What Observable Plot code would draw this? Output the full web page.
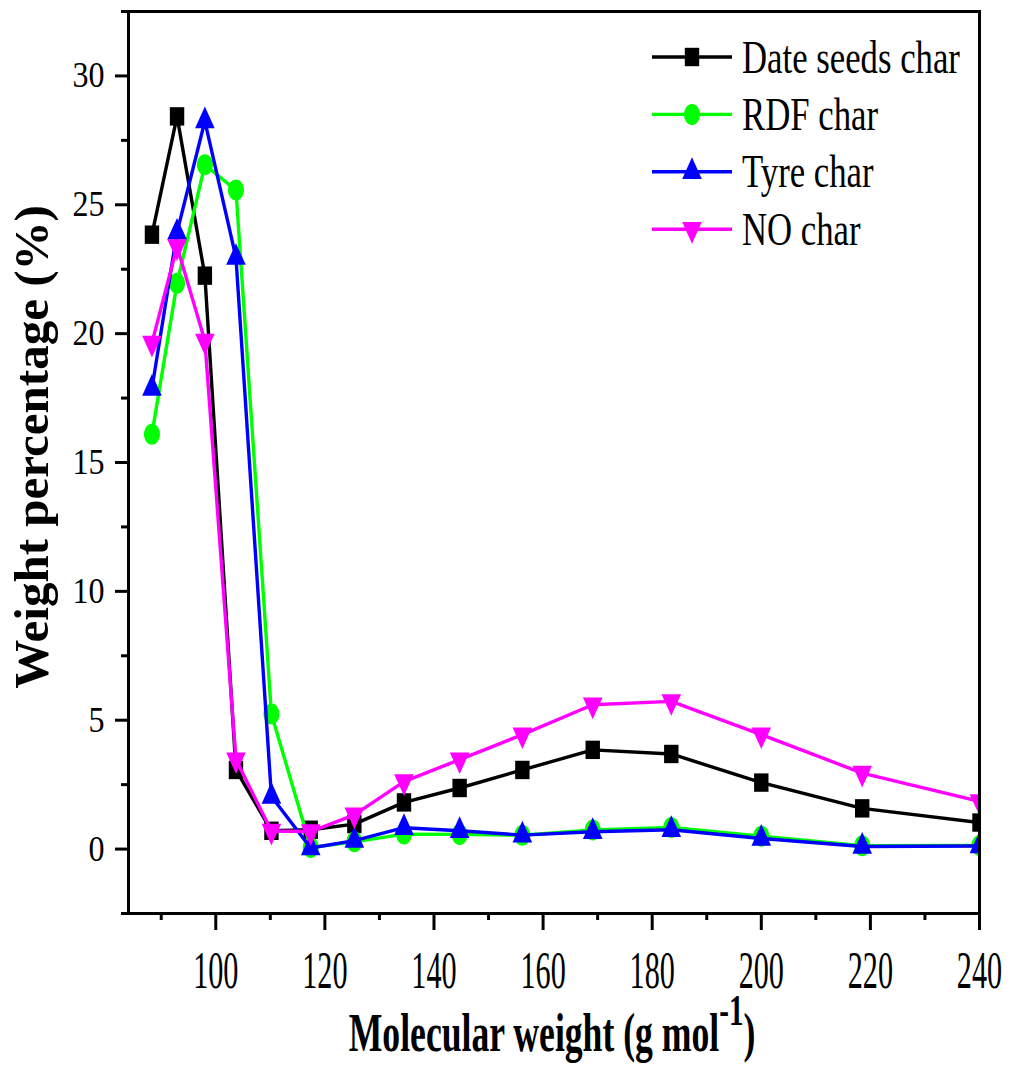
<!DOCTYPE html>
<html><head><meta charset="utf-8">
<script src="https://cdn.jsdelivr.net/npm/d3@7"></script>
<script src="https://cdn.jsdelivr.net/npm/@observablehq/plot@0.6"></script>
<style>body{margin:0;background:#fff}</style>
</head><body><div id="chart"></div>
<script>
const seriesNames = ["Date seeds char", "RDF char", "Tyre char", "NO char"];
const seriesColors = ["#000000", "#00ff00", "#0000ff", "#ff00ff"];
const molecularWeight = [88.3, 92.9, 98.0, 103.7, 110.2, 117.4, 125.4, 134.5, 144.7, 156.2, 169.1, 183.5, 200.0, 218.5, 240.0];
const dateSeedsChar = [23.84, 28.43, 22.25, 3.07, 0.71, 0.75, 0.97, 1.81, 2.37, 3.07, 3.85, 3.69, 2.58, 1.58, 1.03];
const rdfChar = [16.1, 21.96, 26.55, 25.57, 5.24, 0.06, 0.28, 0.58, 0.57, 0.54, 0.74, 0.84, 0.5, 0.13, 0.14];
const tyreChar = [17.87, 23.93, 28.25, 22.95, 2.04, 0.04, 0.33, 0.83, 0.71, 0.54, 0.67, 0.75, 0.41, 0.1, 0.12];
const noChar = [19.64, 23.38, 19.72, 3.47, 0.7, 0.68, 1.33, 2.62, 3.47, 4.44, 5.6, 5.73, 4.44, 2.95, 1.85];
const seriesValues = [dateSeedsChar, rdfChar, tyreChar, noChar];
const xMajorTicks = [100, 120, 140, 160, 180, 200, 220, 240];
const xMinorTicks = [90, 110, 130, 150, 170, 190, 210, 230];
const yMajorTicks = [0, 5, 10, 15, 20, 25, 30];
const yMinorTicks = [-2.5, 2.5, 7.5, 12.5, 17.5, 22.5, 27.5, 32.5];

// custom marker shapes
const K = 0.5523;
const squareSym = {draw(c) { const w = 7.2, h = 9.2; c.moveTo(-w, -h); c.lineTo(w, -h); c.lineTo(w, h); c.lineTo(-w, h); c.closePath(); }};
const ellipseSym = {draw(c) { const rx = 8, ry = 10.5;
  c.moveTo(rx, 0); c.bezierCurveTo(rx, ry * K, rx * K, ry, 0, ry); c.bezierCurveTo(-rx * K, ry, -rx, ry * K, -rx, 0);
  c.bezierCurveTo(-rx, -ry * K, -rx * K, -ry, 0, -ry); c.bezierCurveTo(rx * K, -ry, rx, -ry * K, rx, 0); c.closePath(); }};
const triUpSym = {draw(c) { const w = 9.8, h = 21.7; c.moveTo(0, -2 * h / 3); c.lineTo(w, h / 3); c.lineTo(-w, h / 3); c.closePath(); }};
const triDownSym = {draw(c) { const w = 9.8, h = 21.7; c.moveTo(0, 2 * h / 3); c.lineTo(w, -h / 3); c.lineTo(-w, -h / 3); c.closePath(); }};
const seriesSymbols = [squareSym, ellipseSym, triUpSym, triDownSym];

const seriesMarks = seriesNames.flatMap((name, s) => {
  const rows = molecularWeight.map((mw, i) => ({series: name, mw, value: seriesValues[s][i]}));
  return [
    Plot.line(rows, {x: "mw", y: "value", stroke: seriesColors[s], strokeWidth: 3.4, clip: true}),
    Plot.dot(rows, {x: "mw", y: "value", symbol: seriesSymbols[s], fill: seriesColors[s], stroke: "none", clip: true})
  ];
});

const chart = Plot.plot({
  width: 1009, height: 1066,
  marginLeft: 128, marginRight: 30, marginTop: 11, marginBottom: 153,
  style: {fontFamily: "'Liberation Serif', 'Times New Roman', serif", background: "white", color: "black"},
  x: {domain: [84, 240]},
  y: {domain: [-2.5, 32.5]},
  marks: [
    Plot.axisX(xMinorTicks, {tickSize: 7, strokeWidth: 3, tickFormat: () => "", label: null}),
    Plot.axisX(xMajorTicks, {tickSize: 17, strokeWidth: 3, tickPadding: 20, fontSize: 53, tickFormat: d => String(d), label: null}),
    Plot.axisY(yMinorTicks, {tickSize: 7, strokeWidth: 3, tickFormat: () => "", label: null}),
    Plot.axisY(yMajorTicks, {tickSize: 13, strokeWidth: 3, tickPadding: 11, fontSize: 36, tickFormat: d => String(d), label: null}),
    ...seriesMarks,
    Plot.frame({stroke: "black", strokeWidth: 3})
  ]
});

function squeeze(sel, sx) {
  sel.each(function() {
    const tr = this.getAttribute("transform") || "";
    this.setAttribute("transform", tr + ` scale(${sx},1)`);
  });
}
const svg = d3.select(chart);
squeeze(svg.selectAll('g[aria-label="x-axis tick label"] text'), 0.57);
squeeze(svg.selectAll('g[aria-label="y-axis tick label"] text'), 0.89);

// axis titles
const xt = svg.append("text")
  .attr("transform", "translate(552,1051) scale(0.66,1)")
  .attr("text-anchor", "middle").attr("font-weight", "bold").attr("font-size", 54).attr("fill", "black");
xt.append("tspan").text("Molecular weight (g mol");
xt.append("tspan").attr("font-size", 44).attr("dy", -26).text("-1");
xt.append("tspan").attr("dy", 26).text(")");

svg.append("text")
  .attr("transform", "translate(48,447) rotate(-90)")
  .attr("text-anchor", "middle").attr("font-weight", "bold").attr("font-size", 49).attr("fill", "black")
  .text("Weight percentage (%)");

// legend
const lg = svg.append("g").attr("aria-label", "legend");
seriesNames.forEach((name, i) => {
  const y = 57 + i * 57.4;
  lg.append("line").attr("x1", 652).attr("x2", 732).attr("y1", y).attr("y2", y)
    .attr("stroke", seriesColors[i]).attr("stroke-width", 3.4);
  lg.append("path").attr("transform", `translate(692,${y})`)
    .attr("d", d3.symbol(seriesSymbols[i])()).attr("fill", seriesColors[i]);
  lg.append("text").attr("transform", `translate(742,${y + 15.6}) scale(0.755,1)`)
    .attr("text-anchor", "start").attr("font-size", 46).attr("fill", "black").text(name);
});

document.getElementById("chart").appendChild(chart);
</script></body></html>
